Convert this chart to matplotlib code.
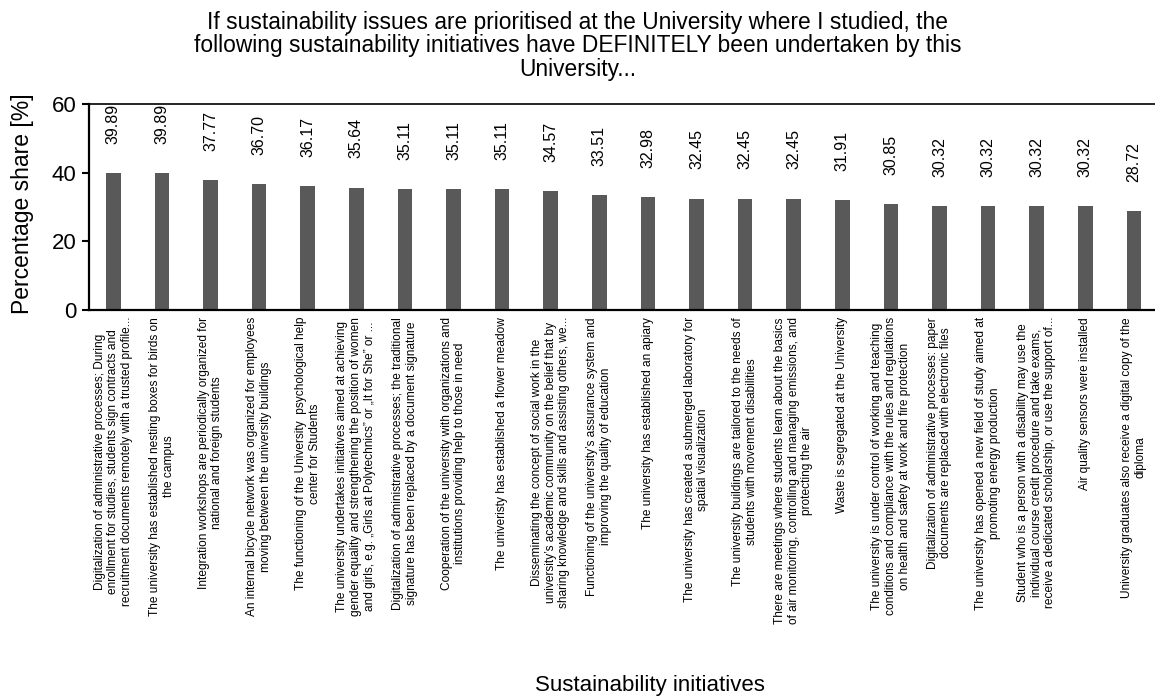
import matplotlib
matplotlib.use("Agg")
import matplotlib.pyplot as plt
import matplotlib.transforms as mtransforms

plt.rcParams['font.family'] = ['Liberation Sans', 'DejaVu Sans']

title = ("If sustainability issues are prioritised at the University where I studied, the\n"
         "following sustainability initiatives have DEFINITELY been undertaken by this\n"
         "University...")
y_label = "Percentage share [%]"
x_label = "Sustainability initiatives"

initiatives = [
    "Digitalization of administrative processes; During\nenrollment for studies, students sign contracts and\nrecruitment documents remotely with a trusted profile...",
    "The university has established nesting boxes for birds on\nthe campus",
    "Integration workshops are periodically organized for\nnational and foreign students",
    "An internal bicycle network was organized for employees\nmoving between the university buildings",
    "The functioning of the University  psychological help\ncenter for Students",
    "The university undertakes initiatives aimed at achieving\ngender equality and strengthening the position of women\nand girls, e.g. \u201eGirls at Polytechnics\u201d or \u201eIt for She\u201d or ...",
    "Digitalization of administrative processes; the traditional\nsignature has been replaced by a document signature",
    "Cooperation of the university with organizations and\ninstitutions providing help to those in need",
    "The univeristy has established a flower meadow",
    "Disseminating the concept of social work in the\nuniversity\u2019s academic community on the belief that by\nsharing knowledge and skills and assisting others, we...",
    "Functioning of the university\u2019s assurance system and\nimproving the quality of education",
    "The university has established an apiary",
    "The university has created a submerged laboratory for\nspatial visualization",
    "The university buildings are tailored to the needs of\nstudents with movement disabilities",
    "There are meetings where students learn about the basics\nof air monitoring, controlling and managing emissions, and\nprotecting the air",
    "Waste is segregated at the University",
    "The university is under control of working and teaching\nconditions and compliance with the rules and regulations\non health and safety at work and fire protection",
    "Digitalization of administrative processes: paper\ndocuments are replaced with electronic files",
    "The university has opened a new field of study aimed at\npromoting energy production",
    "Student who is a person with a disability may use the\nindividual course credit procedure and take exams,\nreceive a dedicated scholarship, or use the support of...",
    "Air quality sensors were installed",
    "University graduates also receive a digital copy of the\ndiploma",
]

shares = [39.89, 39.89, 37.77, 36.70, 36.17, 35.64, 35.11, 35.11, 35.11, 34.57, 33.51,
          32.98, 32.45, 32.45, 32.45, 31.91, 30.85, 30.32, 30.32, 30.32, 30.32, 28.72]

y_ticks = [0, 20, 40, 60]

W, H = 1155, 698
fig = plt.figure(figsize=(W / 100, H / 100), dpi=100)

n = len(shares)
slot = 48.6
left_px, top_px, bottom_px = 89, 104, 310
ax = fig.add_axes([left_px / W, 1 - bottom_px / H, n * slot / W, (bottom_px - top_px) / H])

positions = list(range(n))
bar_color = "#595959"
ax.bar(positions, shares, width=0.3, color=bar_color, zorder=2)

ax.set_xlim(-0.5, n - 0.5)
ax.set_ylim(0, 60)
ax.set_yticks(y_ticks)
ax.set_yticklabels([str(t) for t in y_ticks], fontsize=16)
ax.tick_params(axis='y', direction='out', length=5, width=1.5, pad=4, colors='black')
ax.set_xticks([])

for side in ('left', 'bottom'):
    ax.spines[side].set_linewidth(1.6)
ax.spines['top'].set_linewidth(1.2)
ax.spines['right'].set_visible(False)

# value labels above the bars
for x, v in zip(positions, shares):
    ax.annotate(f"{v:.2f}", xy=(x, v), xytext=(0, 21), textcoords='offset points',
                rotation=90, ha='center', va='bottom', fontsize=11.5, color='black')

# category labels hanging below the axis
trans = mtransforms.blended_transform_factory(ax.transData, ax.transAxes)
offset = mtransforms.ScaledTranslation(0, -7 / 100, fig.dpi_scale_trans)
for x, lab in zip(positions, initiatives):
    ax.text(x, 0, lab, transform=trans + offset, rotation=90, ha='center', va='top',
            multialignment='center', fontsize=8.6, linespacing=1.2, color='black')

fig.text(0.5, 1 - 11 / H, title, ha='center', va='top', fontsize=16.4, linespacing=1.02)
fig.text(22 / W, 1 - 204 / H, y_label, rotation=90, ha='center', va='center', fontsize=16.5)
fig.text(650 / W, 1 - 685 / H, x_label, ha='center', va='center', fontsize=16)

fig.savefig("out.png", dpi=100)
